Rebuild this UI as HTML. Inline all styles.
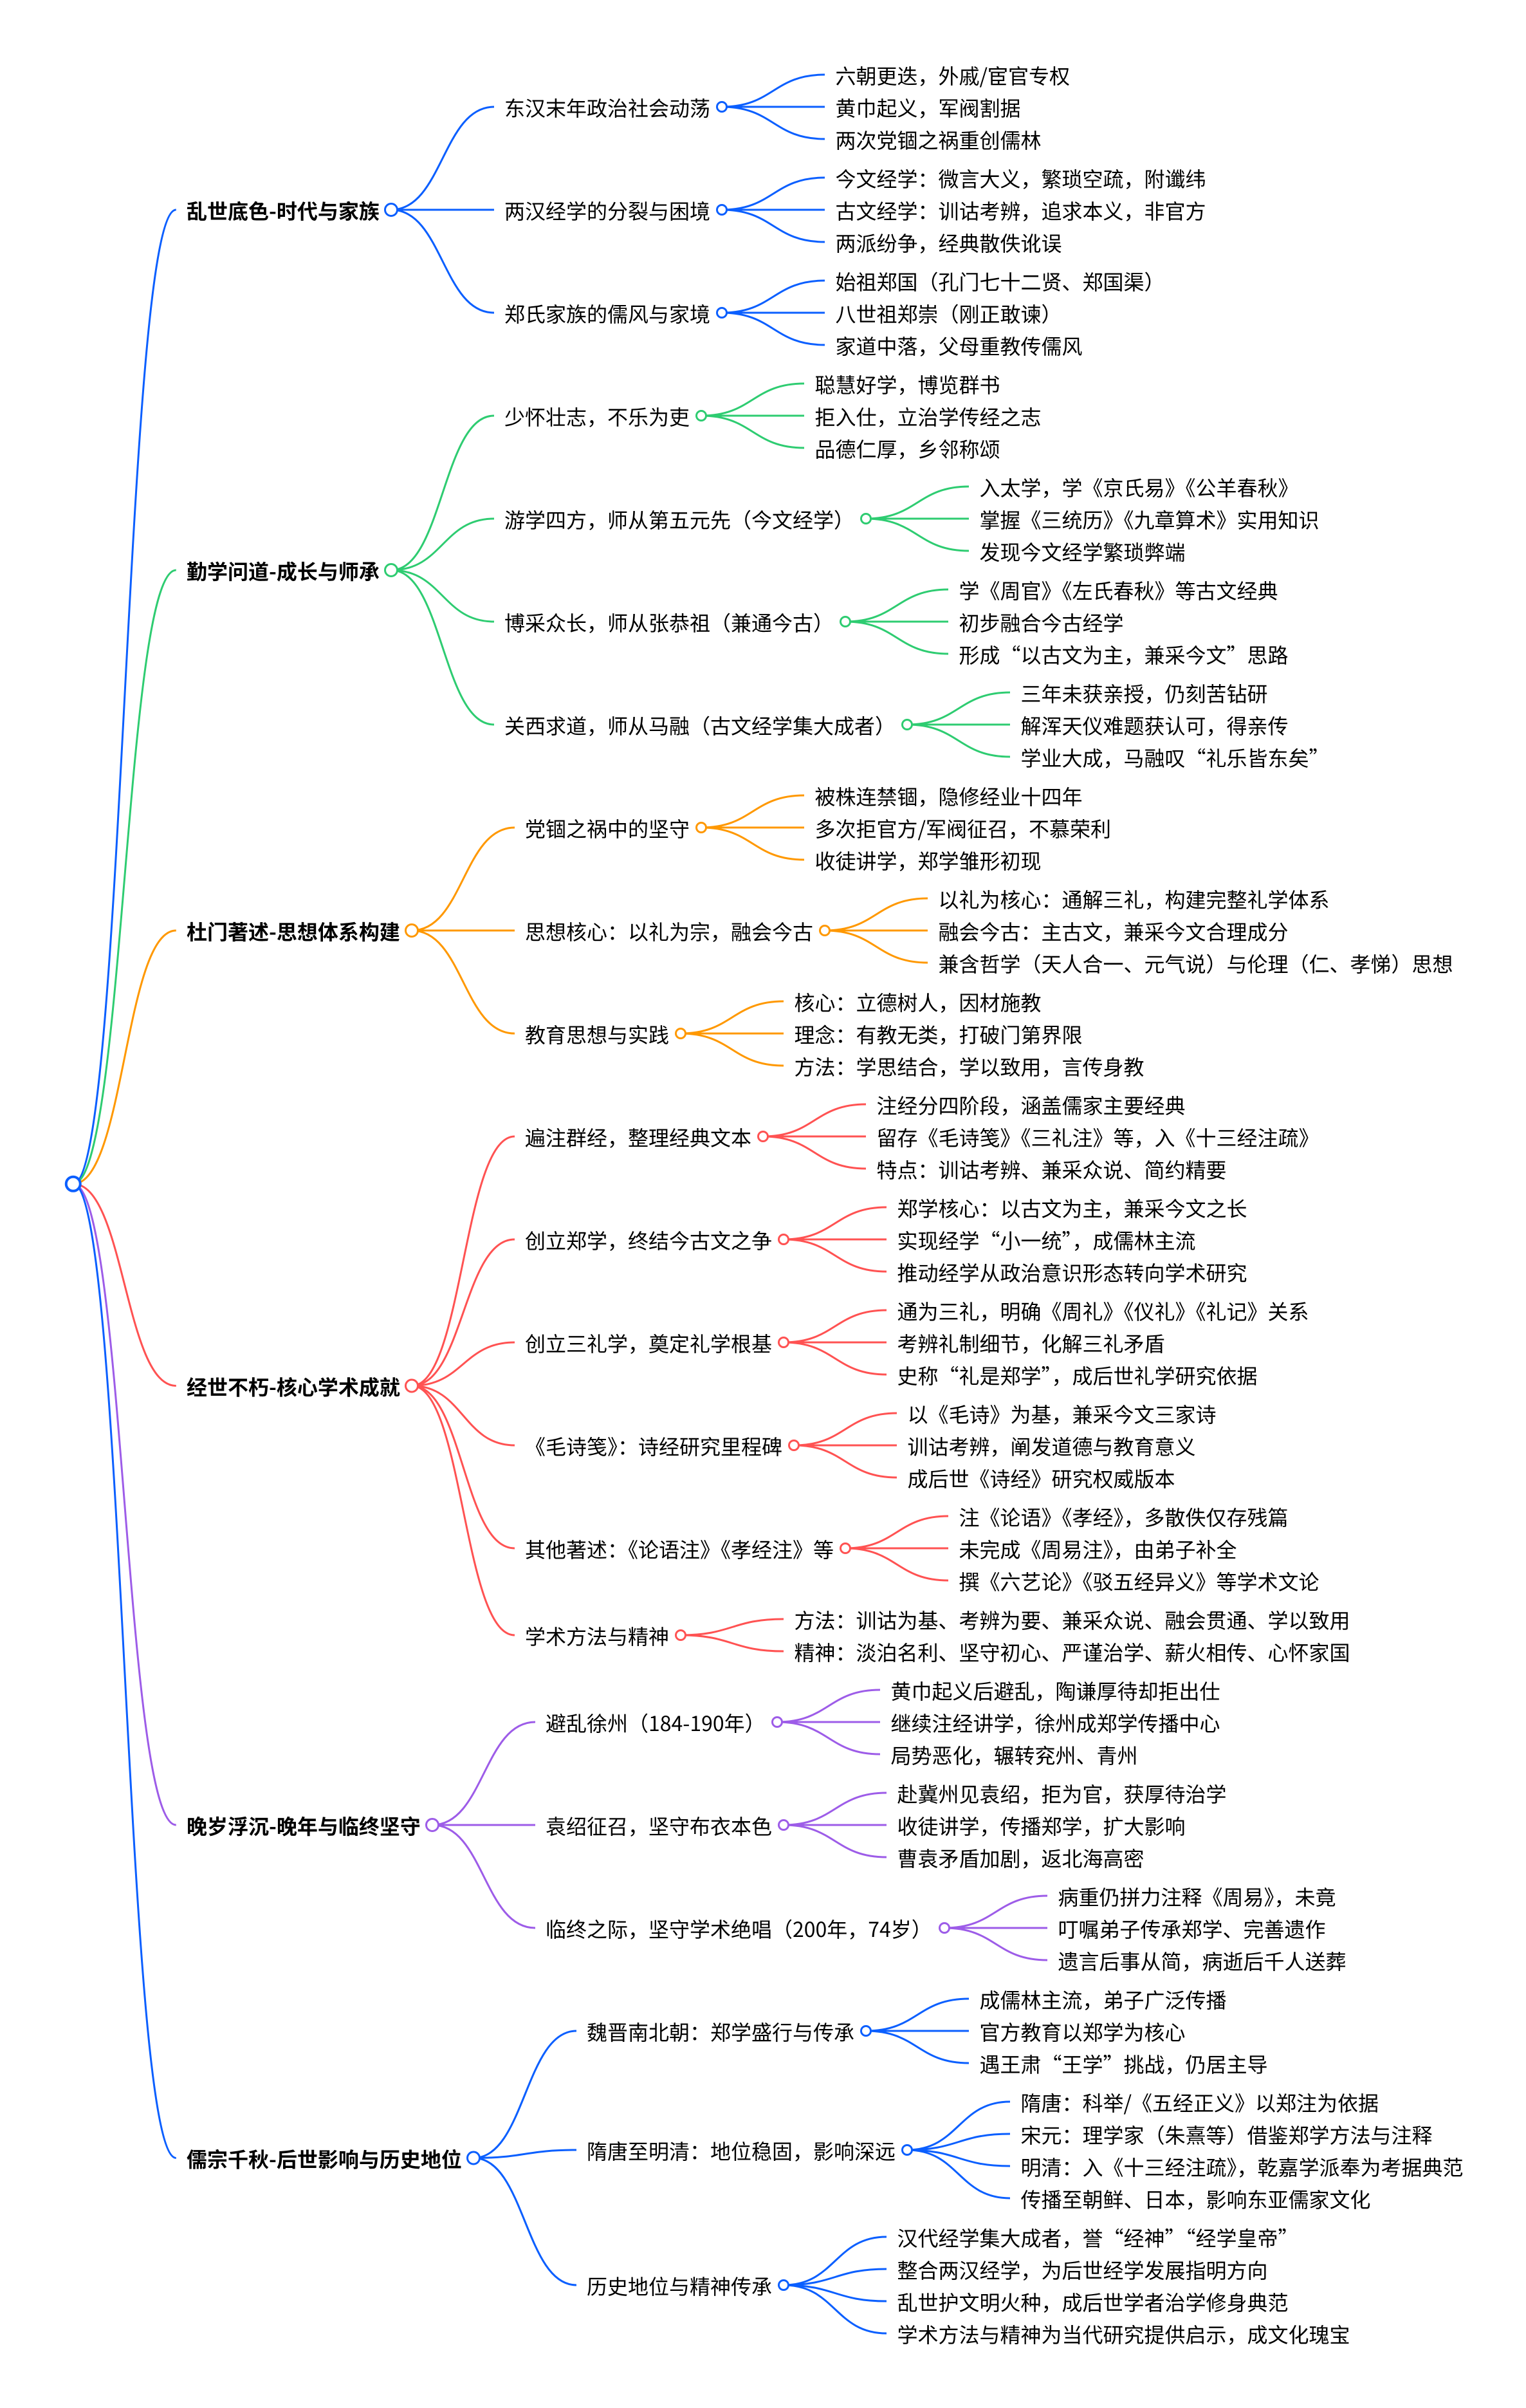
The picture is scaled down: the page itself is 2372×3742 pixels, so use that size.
<!DOCTYPE html>
<html lang="zh-CN">
<head>
<meta charset="utf-8">
<title>郑玄思维导图</title>
<style>
html,body{margin:0;padding:0;background:#fff;width:2372px;height:3742px;overflow:hidden}
svg{display:block}
text{font-family:"Noto Sans CJK SC","WenQuanYi Zen Hei","Liberation Sans",sans-serif;font-size:32px;fill:#000;transform:translateX(-1.5px)}
.b{font-weight:700}
path{fill:none;stroke-width:3;stroke-linecap:butt}
circle{fill:#fff;stroke-width:3}
.c1 path,.c1 circle{stroke:#0b5fff}
.c2 path,.c2 circle{stroke:#2ecc71}
.c3 path,.c3 circle{stroke:#ff9800}
.c4 path,.c4 circle{stroke:#ff5252}
.c5 path,.c5 circle{stroke:#9d5ce8}
</style>
</head>
<body>
<svg xmlns="http://www.w3.org/2000/svg" width="2372" height="3742" viewBox="0 0 2372 3742">
<rect width="2372" height="3742" fill="#fff"/>

<!-- root links -->
<g class="c1"><path d="M113.75 1839.75c80 0 80-1513.75 160-1513.75"/></g>
<g class="c2"><path d="M113.75 1839.75c80 0 80-953.75 160-953.75"/></g>
<g class="c3"><path d="M113.75 1839.75c80 0 80-393.75 160-393.75"/></g>
<g class="c4"><path d="M113.75 1839.75c80 0 80 313.75 160 313.75"/></g>
<g class="c5"><path d="M113.75 1839.75c80 0 80 996.25 160 996.25"/></g>
<g class="c1"><path d="M113.75 1839.75c80 0 80 1513.75 160 1513.75"/></g>

<!-- branch 1 -->
<g class="c1">
<path d="M608 326c80 0 80-160 160-160"/>
<path d="M608 326h160"/>
<path d="M608 326c80 0 80 160 160 160"/>
<path d="M1122 166c80 0 80-50 160-50"/><path d="M1122 166h160"/><path d="M1122 166c80 0 80 50 160 50"/>
<path d="M1122 326c80 0 80-50 160-50"/><path d="M1122 326h160"/><path d="M1122 326c80 0 80 50 160 50"/>
<path d="M1122 486c80 0 80-50 160-50"/><path d="M1122 486h160"/><path d="M1122 486c80 0 80 50 160 50"/>
<circle cx="608" cy="326" r="9.5"/>
<circle cx="1122" cy="166" r="7.5"/><circle cx="1122" cy="326" r="7.5"/><circle cx="1122" cy="486" r="7.5"/>
</g>
<text class="b" x="291.5" y="340">乱世底色-时代与家族</text>
<text x="785.5" y="180">东汉末年政治社会动荡</text>
<text x="785.5" y="340">两汉经学的分裂与困境</text>
<text x="785.5" y="500">郑氏家族的儒风与家境</text>
<text x="1300" y="130">六朝更迭，外戚/宦官专权</text>
<text x="1300" y="180">黄巾起义，军阀割据</text>
<text x="1300" y="230">两次党锢之祸重创儒林</text>
<text x="1300" y="290">今文经学：微言大义，繁琐空疏，附谶纬</text>
<text x="1300" y="340">古文经学：训诂考辨，追求本义，非官方</text>
<text x="1300" y="390">两派纷争，经典散佚讹误</text>
<text x="1300" y="450">始祖郑国（孔门七十二贤、郑国渠）</text>
<text x="1300" y="500">八世祖郑崇（刚正敢谏）</text>
<text x="1300" y="550">家道中落，父母重教传儒风</text>

<!-- branch 2 -->
<g class="c2">
<path d="M608 886c80 0 80-240 160-240"/>
<path d="M608 886c80 0 80-80 160-80"/>
<path d="M608 886c80 0 80 80 160 80"/>
<path d="M608 886c80 0 80 240 160 240"/>
<path d="M1090 646c80 0 80-50 160-50"/><path d="M1090 646h160"/><path d="M1090 646c80 0 80 50 160 50"/>
<path d="M1346 806c80 0 80-50 160-50"/><path d="M1346 806h160"/><path d="M1346 806c80 0 80 50 160 50"/>
<path d="M1314 966c80 0 80-50 160-50"/><path d="M1314 966h160"/><path d="M1314 966c80 0 80 50 160 50"/>
<path d="M1410 1126c80 0 80-50 160-50"/><path d="M1410 1126h160"/><path d="M1410 1126c80 0 80 50 160 50"/>
<circle cx="608" cy="886" r="9.5"/>
<circle cx="1090" cy="646" r="7.5"/><circle cx="1346" cy="806" r="7.5"/><circle cx="1314" cy="966" r="7.5"/><circle cx="1410" cy="1126" r="7.5"/>
</g>
<text class="b" x="291.5" y="900">勤学问道-成长与师承</text>
<text x="785.5" y="660">少怀壮志，不乐为吏</text>
<text x="785.5" y="820">游学四方，师从第五元先（今文经学）</text>
<text x="785.5" y="980">博采众长，师从张恭祖（兼通今古）</text>
<text x="785.5" y="1140">关西求道，师从马融（古文经学集大成者）</text>
<text x="1268" y="610">聪慧好学，博览群书</text>
<text x="1268" y="660">拒入仕，立治学传经之志</text>
<text x="1268" y="710">品德仁厚，乡邻称颂</text>
<text x="1524" y="770">入太学，学《京氏易》《公羊春秋》</text>
<text x="1524" y="820">掌握《三统历》《九章算术》实用知识</text>
<text x="1524" y="870">发现今文经学繁琐弊端</text>
<text x="1492" y="930">学《周官》《左氏春秋》等古文经典</text>
<text x="1492" y="980">初步融合今古经学</text>
<text x="1492" y="1030">形成“以古文为主，兼采今文”思路</text>
<text x="1588" y="1090">三年未获亲授，仍刻苦钻研</text>
<text x="1588" y="1140">解浑天仪难题获认可，得亲传</text>
<text x="1588" y="1190">学业大成，马融叹“礼乐皆东矣”</text>

<!-- branch 3 -->
<g class="c3">
<path d="M640 1446c80 0 80-160 160-160"/>
<path d="M640 1446h160"/>
<path d="M640 1446c80 0 80 160 160 160"/>
<path d="M1090 1286c80 0 80-50 160-50"/><path d="M1090 1286h160"/><path d="M1090 1286c80 0 80 50 160 50"/>
<path d="M1282 1446c80 0 80-50 160-50"/><path d="M1282 1446h160"/><path d="M1282 1446c80 0 80 50 160 50"/>
<path d="M1058 1606c80 0 80-50 160-50"/><path d="M1058 1606h160"/><path d="M1058 1606c80 0 80 50 160 50"/>
<circle cx="640" cy="1446" r="9.5"/>
<circle cx="1090" cy="1286" r="7.5"/><circle cx="1282" cy="1446" r="7.5"/><circle cx="1058" cy="1606" r="7.5"/>
</g>
<text class="b" x="291.5" y="1460">杜门著述-思想体系构建</text>
<text x="817.5" y="1300">党锢之祸中的坚守</text>
<text x="817.5" y="1460">思想核心：以礼为宗，融会今古</text>
<text x="817.5" y="1620">教育思想与实践</text>
<text x="1268" y="1250">被株连禁锢，隐修经业十四年</text>
<text x="1268" y="1300">多次拒官方/军阀征召，不慕荣利</text>
<text x="1268" y="1350">收徒讲学，郑学雏形初现</text>
<text x="1460" y="1410">以礼为核心：通解三礼，构建完整礼学体系</text>
<text x="1460" y="1460">融会今古：主古文，兼采今文合理成分</text>
<text x="1460" y="1510">兼含哲学（天人合一、元气说）与伦理（仁、孝悌）思想</text>
<text x="1236" y="1570">核心：立德树人，因材施教</text>
<text x="1236" y="1620">理念：有教无类，打破门第界限</text>
<text x="1236" y="1670">方法：学思结合，学以致用，言传身教</text>

<!-- branch 4 -->
<g class="c4">
<path d="M640 2153.5c80 0 80-387.5 160-387.5"/>
<path d="M640 2153.5c80 0 80-227.500 160-227.500"/>
<path d="M640 2153.5c80 0 80-67.500 160-67.500"/>
<path d="M640 2153.5c80 0 80 92.500 160 92.500"/>
<path d="M640 2153.5c80 0 80 252.500 160 252.500"/>
<path d="M640 2153.5c80 0 80 387.500 160 387.500"/>
<path d="M1186 1766c80 0 80-50 160-50"/><path d="M1186 1766h160"/><path d="M1186 1766c80 0 80 50 160 50"/>
<path d="M1218 1926c80 0 80-50 160-50"/><path d="M1218 1926h160"/><path d="M1218 1926c80 0 80 50 160 50"/>
<path d="M1218 2086c80 0 80-50 160-50"/><path d="M1218 2086h160"/><path d="M1218 2086c80 0 80 50 160 50"/>
<path d="M1234 2246c80 0 80-50 160-50"/><path d="M1234 2246h160"/><path d="M1234 2246c80 0 80 50 160 50"/>
<path d="M1314 2406c80 0 80-50 160-50"/><path d="M1314 2406h160"/><path d="M1314 2406c80 0 80 50 160 50"/>
<path d="M1058 2541c80 0 80-25 160-25"/><path d="M1058 2541c80 0 80 25 160 25"/>
<circle cx="640" cy="2153.5" r="9.5"/>
<circle cx="1186" cy="1766" r="7.5"/><circle cx="1218" cy="1926" r="7.5"/><circle cx="1218" cy="2086" r="7.5"/><circle cx="1234" cy="2246" r="7.5"/><circle cx="1314" cy="2406" r="7.5"/><circle cx="1058" cy="2541" r="7.5"/>
</g>
<text class="b" x="291.5" y="2167.500">经世不朽-核心学术成就</text>
<text x="817.5" y="1780">遍注群经，整理经典文本</text>
<text x="817.5" y="1940">创立郑学，终结今古文之争</text>
<text x="817.5" y="2100">创立三礼学，奠定礼学根基</text>
<text x="817.5" y="2260">《毛诗笺》：诗经研究里程碑</text>
<text x="817.5" y="2420">其他著述：《论语注》《孝经注》等</text>
<text x="817.5" y="2555">学术方法与精神</text>
<text x="1364" y="1730">注经分四阶段，涵盖儒家主要经典</text>
<text x="1364" y="1780">留存《毛诗笺》《三礼注》等，入《十三经注疏》</text>
<text x="1364" y="1830">特点：训诂考辨、兼采众说、简约精要</text>
<text x="1396" y="1890">郑学核心：以古文为主，兼采今文之长</text>
<text x="1396" y="1940">实现经学“小一统”，成儒林主流</text>
<text x="1396" y="1990">推动经学从政治意识形态转向学术研究</text>
<text x="1396" y="2050">通为三礼，明确《周礼》《仪礼》《礼记》关系</text>
<text x="1396" y="2100">考辨礼制细节，化解三礼矛盾</text>
<text x="1396" y="2150">史称“礼是郑学”，成后世礼学研究依据</text>
<text x="1412" y="2210">以《毛诗》为基，兼采今文三家诗</text>
<text x="1412" y="2260">训诂考辨，阐发道德与教育意义</text>
<text x="1412" y="2310">成后世《诗经》研究权威版本</text>
<text x="1492" y="2370">注《论语》《孝经》，多散佚仅存残篇</text>
<text x="1492" y="2420">未完成《周易注》，由弟子补全</text>
<text x="1492" y="2470">撰《六艺论》《驳五经异义》等学术文论</text>
<text x="1236" y="2530">方法：训诂为基、考辨为要、兼采众说、融会贯通、学以致用</text>
<text x="1236" y="2580">精神：淡泊名利、坚守初心、严谨治学、薪火相传、心怀家国</text>

<!-- branch 5 -->
<g class="c5">
<path d="M672 2836c80 0 80-160 160-160"/>
<path d="M672 2836h160"/>
<path d="M672 2836c80 0 80 160 160 160"/>
<path d="M1208 2676c80 0 80-50 160-50"/><path d="M1208 2676h160"/><path d="M1208 2676c80 0 80 50 160 50"/>
<path d="M1218 2836c80 0 80-50 160-50"/><path d="M1218 2836h160"/><path d="M1218 2836c80 0 80 50 160 50"/>
<path d="M1468 2996c80 0 80-50 160-50"/><path d="M1468 2996h160"/><path d="M1468 2996c80 0 80 50 160 50"/>
<circle cx="672" cy="2836" r="9.5"/>
<circle cx="1208" cy="2676" r="7.5"/><circle cx="1218" cy="2836" r="7.5"/><circle cx="1468" cy="2996" r="7.5"/>
</g>
<text class="b" x="291.5" y="2850">晚岁浮沉-晚年与临终坚守</text>
<text x="849.5" y="2690">避乱徐州（184-190年）</text>
<text x="849.5" y="2850">袁绍征召，坚守布衣本色</text>
<text x="849.5" y="3010">临终之际，坚守学术绝唱（200年，74岁）</text>
<text x="1386" y="2640">黄巾起义后避乱，陶谦厚待却拒出仕</text>
<text x="1386" y="2690">继续注经讲学，徐州成郑学传播中心</text>
<text x="1386" y="2740">局势恶化，辗转兖州、青州</text>
<text x="1396" y="2800">赴冀州见袁绍，拒为官，获厚待治学</text>
<text x="1396" y="2850">收徒讲学，传播郑学，扩大影响</text>
<text x="1396" y="2900">曹袁矛盾加剧，返北海高密</text>
<text x="1646" y="2960">病重仍拼力注释《周易》，未竟</text>
<text x="1646" y="3010">叮嘱弟子传承郑学、完善遗作</text>
<text x="1646" y="3060">遗言后事从简，病逝后千人送葬</text>

<!-- branch 6 -->
<g class="c1">
<path d="M736 3353.5c80 0 80-197.500 160-197.500"/>
<path d="M736 3353.5c80 0 80-12.500 160-12.500"/>
<path d="M736 3353.5c80 0 80 197.500 160 197.500"/>
<path d="M1346 3156c80 0 80-50 160-50"/><path d="M1346 3156h160"/><path d="M1346 3156c80 0 80 50 160 50"/>
<path d="M1410 3341c80 0 80-75 160-75"/><path d="M1410 3341c80 0 80-25 160-25"/><path d="M1410 3341c80 0 80 25 160 25"/><path d="M1410 3341c80 0 80 75 160 75"/>
<path d="M1218 3551c80 0 80-75 160-75"/><path d="M1218 3551c80 0 80-25 160-25"/><path d="M1218 3551c80 0 80 25 160 25"/><path d="M1218 3551c80 0 80 75 160 75"/>
<circle cx="736" cy="3353.5" r="9.5"/>
<circle cx="1346" cy="3156" r="7.5"/><circle cx="1410" cy="3341" r="7.5"/><circle cx="1218" cy="3551" r="7.5"/>
</g>
<text class="b" x="291.5" y="3367.500">儒宗千秋-后世影响与历史地位</text>
<text x="913.5" y="3170">魏晋南北朝：郑学盛行与传承</text>
<text x="913.5" y="3355">隋唐至明清：地位稳固，影响深远</text>
<text x="913.5" y="3565">历史地位与精神传承</text>
<text x="1524" y="3120">成儒林主流，弟子广泛传播</text>
<text x="1524" y="3170">官方教育以郑学为核心</text>
<text x="1524" y="3220">遇王肃“王学”挑战，仍居主导</text>
<text x="1588" y="3280">隋唐：科举/《五经正义》以郑注为依据</text>
<text x="1588" y="3330">宋元：理学家（朱熹等）借鉴郑学方法与注释</text>
<text x="1588" y="3380">明清：入《十三经注疏》，乾嘉学派奉为考据典范</text>
<text x="1588" y="3430">传播至朝鲜、日本，影响东亚儒家文化</text>
<text x="1396" y="3490">汉代经学集大成者，誉“经神”“经学皇帝”</text>
<text x="1396" y="3540">整合两汉经学，为后世经学发展指明方向</text>
<text x="1396" y="3590">乱世护文明火种，成后世学者治学修身典范</text>
<text x="1396" y="3640">学术方法与精神为当代研究提供启示，成文化瑰宝</text>

<!-- root -->
<g class="c1"><circle cx="113.75" cy="1839.75" r="11" style="stroke-width:4"/></g>
</svg>
</body>
</html>
